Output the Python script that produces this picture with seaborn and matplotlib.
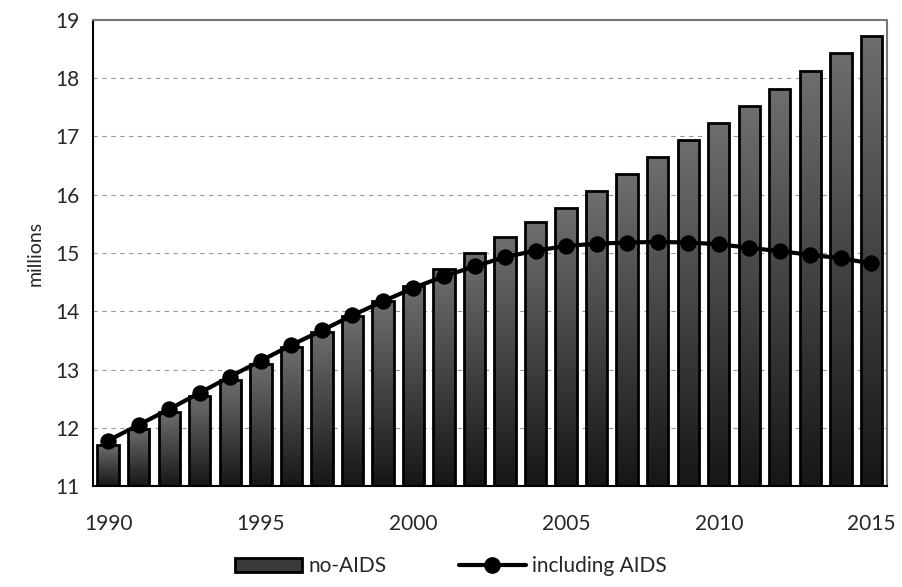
import numpy as np
import pandas as pd
import seaborn as sns
import matplotlib.pyplot as plt
from matplotlib.patches import Patch
from matplotlib.lines import Line2D
from matplotlib.ticker import MultipleLocator
from matplotlib.colors import LinearSegmentedColormap

# %% data (millions)
years = list(range(1990, 2016))
no_aids = [11.70, 11.98, 12.27, 12.55, 12.82, 13.10, 13.38, 13.65, 13.92, 14.17,
           14.43, 14.73, 15.00, 15.27, 15.53, 15.78, 16.06, 16.35, 16.64, 16.94,
           17.23, 17.52, 17.82, 18.13, 18.44, 18.73]
incl_aids = [11.78, 12.05, 12.32, 12.60, 12.88, 13.15, 13.42, 13.67, 13.93, 14.17,
             14.40, 14.60, 14.77, 14.93, 15.04, 15.12, 15.16, 15.18, 15.19, 15.18,
             15.15, 15.09, 15.03, 14.97, 14.91, 14.82]
xtick_labels = [1990, 1995, 2000, 2005, 2010, 2015]

df = pd.DataFrame({'year': years, 'no-AIDS': no_aids, 'including AIDS': incl_aids})

# %% plot
sns.set_style('white')
plt.rcParams['font.family'] = ['Lato', 'DejaVu Sans']

fig = plt.figure(figsize=(9.02, 5.87), dpi=100)
ax = fig.add_axes([0.103, 0.172, 0.880, 0.794])

sns.barplot(data=df, x='year', y='no-AIDS', native_scale=True, width=0.7,
            color='#555555', edgecolor='black', linewidth=2, ax=ax, zorder=2)

# gradient fill for the bars (gray at top, near black at bottom)
cmap = LinearSegmentedColormap.from_list('bar', ['#161616', '#6e6e6e'])
grad = np.linspace(0, 1, 256).reshape(-1, 1)
for bar in ax.patches:
    x0, y0 = bar.get_x(), bar.get_y()
    w, h = bar.get_width(), bar.get_height()
    bar.set_facecolor('none')
    im = ax.imshow(grad, cmap=cmap, origin='lower', aspect='auto',
                   extent=[x0, x0 + w, 11, y0 + h], zorder=1.9)
    im.set_clip_path(bar)

sns.lineplot(data=df, x='year', y='including AIDS', color='black', lw=3,
             marker='o', markersize=11, markeredgecolor='black', ax=ax, zorder=3)

ax.set_xlim(1989.5, 2015.5)
ax.set_ylim(11, 19)
ax.yaxis.set_major_locator(MultipleLocator(1))
ax.set_xticks(xtick_labels)
ax.set_xticklabels([str(y) for y in xtick_labels])
ax.set_xticks(np.arange(1989.5, 2016, 1), minor=True)
ax.tick_params(axis='x', which='major', length=0, labelsize=15, pad=20)
ax.tick_params(axis='x', which='minor', length=6, direction='inout', width=1)
ax.tick_params(axis='y', which='major', length=8, direction='inout', width=1,
               labelsize=15, pad=6)
ax.set_xlabel('')
ax.set_ylabel('millions', fontsize=14, labelpad=8)

ax.yaxis.grid(True, linestyle=(0, (4, 4)), color='#999999', lw=0.8)
ax.set_axisbelow(True)

for s in ['left', 'bottom']:
    ax.spines[s].set_color('black')
    ax.spines[s].set_linewidth(1.5)
for s in ['top', 'right']:
    ax.spines[s].set_color('#777777')
    ax.spines[s].set_linestyle((0, (1, 1)))
    ax.spines[s].set_linewidth(1.5)

handles = [Patch(facecolor='#3a3a3a', edgecolor='black', linewidth=2),
           Line2D([], [], color='black', lw=3, marker='o', markersize=11)]
fig.legend(handles, ['no-AIDS', 'including AIDS'], loc='center',
           bbox_to_anchor=(0.5, 0.035), ncol=2, frameon=False, fontsize=15,
           handlelength=3.2, columnspacing=3.5, handletextpad=0.3)

fig.savefig('out.png', dpi=100)
